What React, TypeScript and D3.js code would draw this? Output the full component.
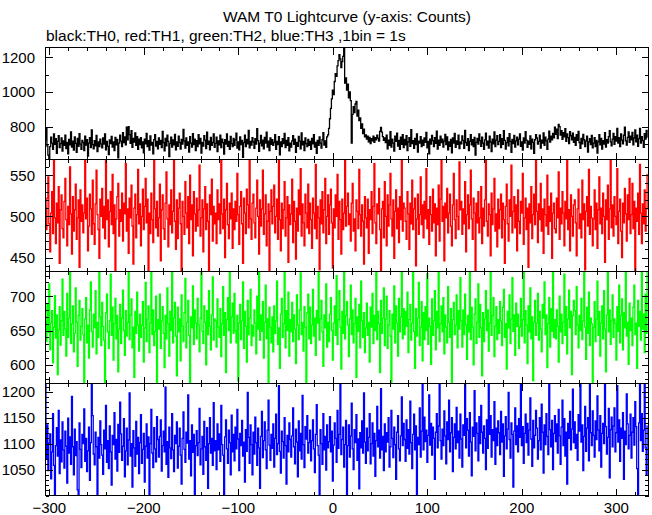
import React from 'react';
import * as d3 from 'd3';

const TITLE = 'WAM T0 Lightcurve (y-axis: Counts)';
const SUBTITLE = 'black:TH0, red:TH1, green:TH2, blue:TH3 ,1bin = 1s';

// time of first bin (s), bin width 1 s
const T_START = -304;
const BIN = 1;
const X_DOMAIN: [number, number] = [-304, 334];
const X_TICKS = [-300, -200, -100, 0, 100, 200, 300];

const TH0 = [
722, 790, 688, 635, 612, 684, 739, 705, 669, 758, 697, 730, 646, 714, 747, 678, 701, 734, 658, 718,
692, 751, 673, 709, 642, 726, 695, 769, 681, 716, 664, 740, 703, 651, 731, 686, 759, 699, 668, 720,
708, 661, 745, 693, 724, 630, 704, 736, 678, 781, 696, 672, 719, 689, 749, 655, 712, 684, 728, 700,
677, 735, 699, 757, 666, 715, 686, 638, 723, 701, 743, 682, 711, 662, 738, 695, 726, 619, 705, 750,
716, 685, 765, 707, 740, 695, 796, 724, 800, 753, 703, 776, 680, 732, 711, 763, 691, 742, 668, 727,
696, 736, 677, 712, 649, 728, 700, 761, 684, 719, 664, 746, 693, 708, 643, 724, 753, 688, 715, 672,
735, 697, 720, 678, 772, 707, 660, 731, 689, 751, 714, 627, 701, 739, 682, 723, 695, 755, 665, 711,
686, 745, 707, 670, 726, 699, 784, 718, 676, 735, 692, 712, 653, 742, 704, 681, 759, 696, 727, 661,
719, 684, 753, 700, 731, 647, 709, 688, 747, 722, 673, 768, 697, 716, 666, 738, 691, 708, 757, 680,
703, 739, 655, 718, 695, 750, 678, 728, 707, 641, 724, 699, 758, 686, 714, 669, 743, 701, 684, 732,
691, 723, 762, 676, 711, 665, 740, 696, 720, 622, 707, 751, 685, 726, 700, 778, 677, 715, 693, 736,
712, 674, 730, 699, 788, 719, 657, 704, 749, 689, 722, 672, 738, 705, 768, 682, 716, 661, 734, 697,
724, 692, 708, 754, 668, 715, 696, 742, 637, 711, 685, 730, 701, 761, 678, 720, 691, 736, 660, 704,
681, 718, 747, 697, 728, 651, 709, 686, 743, 716, 672, 763, 695, 714, 662, 734, 701, 684, 726, 692,
715, 669, 732, 700, 753, 682, 708, 646, 720, 692, 740, 704, 676, 724, 765, 693, 718, 680, 740, 752,
790, 845, 905, 960, 1010, 985, 1060, 1105, 1090, 1150, 1180, 1215, 1190, 1140, 1175, 1205, 1256, 1050, 1080, 1010,
1045, 965, 1000, 950, 705, 870, 915, 880, 930, 945, 860, 895, 835, 850, 790, 815, 760, 785, 740, 752,
728, 745, 712, 738, 701, 730, 718, 745, 709, 736, 724, 750, 733, 716, 772, 795, 768, 742, 720, 735,
707, 751, 672, 722, 692, 770, 682, 728, 704, 658, 745, 714, 762, 688, 720, 669, 739, 697, 754, 678,
726, 695, 747, 662, 711, 736, 686, 782, 701, 719, 674, 731, 696, 757, 653, 716, 705, 742, 684, 722,
691, 734, 709, 766, 677, 715, 643, 727, 699, 749, 719, 685, 736, 703, 773, 670, 722, 692, 745, 708,
728, 682, 716, 755, 696, 740, 665, 711, 686, 726, 649, 735, 704, 761, 680, 718, 697, 750, 673, 712,
700, 746, 720, 674, 778, 708, 691, 730, 661, 715, 753, 695, 724, 684, 738, 635, 709, 732, 699, 758,
719, 686, 739, 704, 668, 723, 762, 693, 716, 676, 745, 711, 655, 728, 700, 769, 685, 722, 747, 696,
714, 753, 678, 730, 697, 777, 720, 670, 707, 736, 689, 759, 715, 651, 726, 701, 749, 682, 718, 739,
695, 727, 757, 686, 712, 664, 735, 705, 770, 722, 680, 716, 697, 746, 672, 728, 709, 646, 724, 754,
734, 699, 715, 751, 676, 722, 704, 763, 692, 739, 718, 668, 728, 774, 711, 745, 723, 761, 735, 796,
755, 785, 730, 812, 800, 751, 776, 726, 765, 740, 788, 715, 757, 736, 701, 770, 747, 724, 762, 709,
738, 692, 753, 720, 772, 708, 674, 732, 700, 755, 724, 685, 716, 745, 653, 711, 730, 696, 749, 677,
705, 736, 684, 720, 647, 712, 754, 695, 731, 670, 719, 699, 765, 682, 724, 704, 742, 776, 712, 689,
727, 761, 697, 742, 716, 789, 705, 736, 685, 757, 722, 700, 750, 797, 718, 693, 738, 769, 709, 745,
724, 766, 695, 734, 781, 712, 751, 686, 730, 790, 704, 742, 719, 680, 759, 728, 778, 739,
];

const TH1 = [
510, 484, 522, 548, 491, 457, 504, 530, 479, 569, 498, 467, 516, 492, 536, 443, 508, 526, 485, 474,
518, 546, 496, 464, 512, 490, 560, 503, 454, 524, 482, 508, 539, 472, 498, 520, 438, 532, 494, 514,
480, 504, 569, 497, 522, 458, 488, 527, 509, 478, 544, 491, 466, 515, 556, 502, 484, 449, 521, 500,
534, 486, 512, 473, 569, 496, 520, 463, 506, 530, 490, 551, 479, 514, 433, 497, 524, 540, 476, 508,
494, 528, 470, 516, 503, 564, 482, 509, 455, 522, 498, 538, 488, 442, 510, 527, 474, 502, 557, 491,
515, 464, 500, 533, 484, 512, 546, 492, 521, 433, 504, 479, 528, 496, 468, 569, 509, 486, 518, 476,
498, 539, 446, 508, 526, 485, 472, 516, 554, 497, 463, 514, 490, 532, 480, 506, 569, 494, 460, 520,
473, 510, 528, 491, 433, 518, 500, 478, 542, 504, 486, 524, 467, 550, 496, 514, 452, 530, 503, 482,
522, 488, 508, 562, 476, 498, 520, 457, 509, 536, 484, 515, 494, 433, 526, 502, 545, 470, 512, 491,
504, 467, 532, 496, 515, 479, 569, 503, 485, 521, 450, 508, 540, 490, 473, 516, 497, 528, 461, 509,
484, 518, 494, 552, 502, 466, 512, 530, 491, 443, 522, 504, 479, 533, 514, 486, 568, 497, 472, 516,
527, 492, 474, 510, 544, 500, 454, 520, 488, 509, 556, 478, 503, 526, 464, 494, 515, 433, 506, 532,
491, 512, 538, 480, 500, 521, 472, 569, 496, 458, 516, 485, 508, 542, 476, 498, 524, 444, 514, 490,
503, 545, 468, 518, 494, 448, 510, 482, 532, 502, 558, 476, 515, 492, 464, 527, 504, 486, 539, 479,
516, 496, 461, 522, 504, 485, 563, 473, 512, 498, 435, 520, 491, 530, 480, 508, 546, 467, 500, 526,
478, 514, 533, 492, 437, 509, 486, 526, 500, 551, 472, 518, 496, 454, 521, 484, 504, 569, 488, 512,
528, 490, 503, 470, 516, 540, 482, 497, 458, 520, 506, 485, 557, 502, 476, 514, 494, 442, 524, 498,
486, 521, 455, 508, 496, 530, 479, 512, 564, 492, 467, 515, 503, 534, 484, 433, 509, 518, 474, 542,
500, 464, 526, 488, 514, 552, 497, 476, 520, 449, 506, 532, 485, 510, 468, 524, 496, 569, 482, 516,
510, 494, 472, 530, 503, 460, 516, 491, 544, 484, 509, 522, 440, 497, 527, 478, 502, 548, 490, 514,
474, 518, 497, 558, 485, 508, 466, 524, 502, 482, 533, 492, 515, 452, 510, 490, 538, 470, 521, 569,
494, 512, 446, 516, 498, 534, 480, 504, 527, 488, 464, 514, 552, 496, 473, 520, 500, 484, 566, 508,
518, 478, 509, 491, 542, 457, 502, 526, 485, 514, 556, 497, 472, 522, 504, 434, 516, 492, 530, 480,
498, 536, 467, 510, 488, 520, 569, 494, 476, 515, 502, 452, 528, 490, 509, 546, 482, 503, 463, 521,
485, 508, 527, 474, 516, 496, 443, 512, 539, 491, 470, 520, 500, 562, 480, 506, 524, 486, 514, 458,
532, 494, 479, 518, 504, 552, 466, 498, 522, 484, 510, 438, 515, 492, 536, 473, 502, 527, 490, 569,
506, 468, 515, 496, 540, 482, 509, 455, 521, 502, 488, 550, 478, 512, 494, 528, 449, 504, 516, 485,
480, 522, 498, 554, 472, 510, 491, 530, 504, 464, 518, 497, 569, 484, 508, 458, 526, 500, 476, 514,
520, 492, 452, 509, 533, 485, 503, 474, 544, 496, 515, 435, 506, 524, 488, 557, 478, 512, 498, 464,
497, 532, 484, 516, 461, 508, 548, 491, 510, 479, 528, 500, 444, 520, 496, 538, 472, 509, 569, 486,
514, 476, 524, 500, 490, 558, 467, 506, 521, 482, 450, 516, 492, 534, 503, 470, 526, 496, 546, 479,
502, 540, 485, 518, 433, 510, 494, 528, 478, 563, 504, 467, 515, 491, 532, 482, 509, 551,
];

const TH2 = [
665, 634, 689, 647, 718, 622, 661, 679, 603, 655, 701, 639, 673, 586, 651, 685, 629, 664, 725, 643,
678, 652, 613, 704, 640, 668, 736, 631, 660, 686, 619, 646, 712, 662, 598, 672, 694, 636, 656, 682,
644, 573, 667, 698, 632, 658, 610, 680, 721, 649, 626, 674, 654, 708, 616, 662, 640, 736, 670, 628,
691, 656, 636, 573, 676, 703, 648, 624, 664, 732, 643, 684, 607, 660, 697, 638, 672, 590, 652, 688,
631, 668, 709, 650, 614, 679, 642, 662, 736, 637, 673, 696, 625, 655, 582, 678, 646, 706, 658, 620,
674, 640, 658, 692, 604, 654, 720, 634, 667, 686, 618, 661, 736, 644, 680, 628, 649, 700, 573, 666,
652, 703, 624, 664, 685, 646, 596, 672, 638, 712, 660, 613, 678, 650, 736, 632, 668, 691, 642, 584,
684, 648, 667, 606, 702, 656, 634, 676, 726, 625, 662, 694, 643, 573, 670, 654, 715, 630, 680, 661,
638, 697, 658, 619, 668, 736, 649, 631, 686, 662, 600, 679, 644, 708, 656, 622, 673, 728, 636, 667,
664, 626, 696, 655, 640, 682, 612, 660, 714, 643, 676, 589, 666, 698, 650, 736, 632, 670, 690, 646,
704, 650, 632, 672, 577, 661, 688, 637, 664, 721, 624, 678, 656, 604, 694, 644, 668, 710, 628, 658,
642, 680, 661, 616, 700, 652, 736, 636, 673, 649, 692, 610, 662, 716, 638, 667, 573, 684, 655, 632,
670, 619, 686, 646, 664, 722, 630, 654, 595, 674, 697, 640, 660, 736, 625, 679, 650, 706, 613, 666,
648, 691, 634, 673, 652, 602, 702, 658, 637, 680, 734, 644, 662, 620, 685, 655, 573, 676, 703, 638,
684, 631, 658, 710, 642, 668, 614, 679, 661, 736, 636, 667, 694, 648, 598, 673, 654, 718, 626, 662,
634, 674, 698, 650, 607, 661, 686, 643, 730, 630, 666, 708, 655, 594, 678, 646, 736, 638, 672, 692,
658, 612, 667, 716, 644, 680, 632, 660, 697, 582, 670, 649, 688, 625, 722, 664, 640, 676, 618, 654,
690, 643, 662, 604, 684, 655, 704, 631, 672, 650, 736, 637, 678, 660, 589, 694, 646, 668, 712, 628,
667, 700, 624, 658, 679, 642, 574, 674, 652, 715, 632, 686, 661, 613, 697, 648, 670, 736, 638, 682,
644, 678, 656, 706, 618, 666, 688, 636, 661, 736, 649, 595, 682, 642, 668, 720, 628, 655, 692, 606,
676, 637, 685, 650, 733, 630, 668, 656, 601, 696, 643, 664, 708, 622, 678, 654, 736, 634, 660, 686,
648, 698, 616, 673, 655, 632, 714, 662, 640, 682, 573, 666, 691, 644, 658, 702, 625, 679, 652, 727,
664, 626, 680, 644, 703, 658, 608, 672, 648, 736, 637, 684, 655, 600, 674, 696, 631, 662, 718, 640,
688, 654, 584, 676, 634, 667, 708, 650, 680, 620, 661, 736, 643, 672, 698, 612, 656, 685, 637, 666,
646, 692, 664, 628, 684, 710, 640, 660, 594, 678, 654, 702, 631, 667, 727, 649, 673, 614, 690, 656,
674, 624, 655, 697, 642, 666, 736, 632, 679, 658, 602, 686, 648, 712, 638, 670, 577, 662, 694, 643,
661, 704, 636, 678, 652, 619, 688, 668, 721, 644, 673, 596, 660, 698, 626, 682, 649, 736, 640, 666,
638, 680, 656, 604, 700, 648, 674, 631, 662, 732, 643, 685, 616, 667, 709, 654, 678, 586, 672, 694,
679, 644, 714, 658, 625, 672, 650, 697, 637, 664, 736, 655, 608, 684, 646, 706, 628, 668, 660, 573,
655, 692, 634, 667, 722, 643, 678, 613, 661, 686, 638, 708, 652, 590, 673, 736, 648, 680, 630, 664,
702, 640, 667, 660, 607, 685, 649, 716, 632, 672, 696, 622, 676, 654, 736, 642, 662, 601, 690, 650,
668, 628, 684, 716, 644, 661, 595, 694, 656, 678, 636, 736, 652, 674, 618, 703, 646, 736,
];

const TH3 = [
1216, 1071, 1136, 1048, 1101, 1119, 1032, 1084, 1158, 1058, 1000, 1096, 1131, 1076, 1164, 1042, 1107, 1065, 1142, 1088,
1053, 1124, 1095, 1024, 1149, 1082, 1113, 1060, 1191, 1094, 1040, 1128, 1077, 1104, 1011, 1000, 1140, 1089, 1054, 1118,
1100, 1167, 1066, 1110, 1046, 1086, 1132, 1029, 1102, 1216, 1154, 1080, 1059, 1122, 1094, 1000, 1112, 1072, 1144, 1098,
1078, 1041, 1126, 1090, 1174, 1064, 1106, 1052, 1134, 1084, 1020, 1116, 1098, 1160, 1070, 1108, 1047, 1137, 1083, 1180,
1119, 1068, 1095, 1148, 1036, 1086, 1130, 1059, 1107, 1198, 1076, 1100, 1016, 1125, 1092, 1056, 1143, 1080, 1112, 1042,
1102, 1156, 1062, 1089, 1120, 1026, 1095, 1138, 1072, 1113, 1000, 1100, 1166, 1082, 1054, 1131, 1090, 1065, 1152, 1108,
1074, 1114, 1146, 1047, 1096, 1124, 1084, 1209, 1060, 1104, 1035, 1132, 1092, 1071, 1158, 1088, 1046, 1116, 1100, 1142,
1053, 1095, 1130, 1078, 1022, 1110, 1161, 1089, 1064, 1122, 1101, 1194, 1070, 1106, 1038, 1136, 1083, 1118, 1000, 1096,
1125, 1077, 1102, 1168, 1059, 1090, 1114, 1041, 1143, 1094, 1068, 1131, 1014, 1100, 1150, 1082, 1110, 1058, 1179, 1086,
1106, 1050, 1138, 1088, 1119, 1066, 1174, 1098, 1078, 1000, 1113, 1146, 1090, 1062, 1126, 1102, 1040, 1155, 1084, 1118,
1067, 1132, 1090, 1166, 1109, 1048, 1120, 1096, 1145, 1076, 1103, 1026, 1127, 1085, 1199, 1112, 1062, 1136, 1098, 1040,
1122, 1080, 1151, 1102, 1058, 1130, 1092, 1014, 1114, 1162, 1073, 1106, 1142, 1088, 1052, 1126, 1184, 1097, 1068, 1118,
1091, 1138, 1055, 1110, 1157, 1079, 1100, 1212, 1085, 1043, 1124, 1104, 1072, 1150, 1096, 1022, 1116, 1084, 1140, 1108,
1074, 1115, 1169, 1094, 1061, 1128, 1103, 1036, 1144, 1086, 1120, 1070, 1193, 1098, 1054, 1133, 1109, 1154, 1082, 1102,
1126, 1067, 1106, 1146, 1090, 1044, 1118, 1175, 1096, 1078, 1000, 1127, 1100, 1060, 1158, 1088, 1114, 1049, 1136, 1092,
1104, 1152, 1084, 1124, 1028, 1097, 1140, 1110, 1064, 1164, 1091, 1118, 1216, 1079, 1108, 1132, 1055, 1098, 1145, 1000,
1096, 1136, 1074, 1115, 1178, 1090, 1050, 1127, 1102, 1156, 1068, 1109, 1013, 1121, 1092, 1144, 1082, 1198, 1103, 1062,
1130, 1086, 1112, 1158, 1061, 1100, 1140, 1076, 1120, 1037, 1106, 1172, 1094, 1126, 1072, 1206, 1088, 1114, 1048, 1138,
1084, 1121, 1103, 1150, 1055, 1094, 1164, 1110, 1073, 1132, 1098, 1031, 1122, 1154, 1090, 1067, 1115, 1190, 1096, 1139,
1108, 1066, 1146, 1091, 1127, 1080, 1182, 1102, 1052, 1118, 1157, 1088, 1134, 1002, 1112, 1098, 1169, 1074, 1124, 1214,
1088, 1151, 1104, 1126, 1064, 1116, 1194, 1097, 1139, 1078, 1132, 1110, 1031, 1122, 1158, 1092, 1134, 1216, 1106, 1070,
1128, 1096, 1163, 1115, 1061, 1142, 1108, 1184, 1084, 1121, 1150, 1046, 1112, 1138, 1090, 1170, 1102, 1124, 1072, 1157,
1109, 1055, 1136, 1116, 1216, 1092, 1148, 1126, 1076, 1160, 1103, 1038, 1132, 1114, 1202, 1086, 1140, 1120, 1067, 1152,
1100, 1174, 1122, 1082, 1134, 1110, 1050, 1146, 1091, 1216, 1118, 1154, 1074, 1127, 1106, 1181, 1060, 1130, 1096, 1144,
1121, 1079, 1162, 1103, 1138, 1037, 1115, 1152, 1090, 1128, 1199, 1108, 1072, 1140, 1118, 1016, 1124, 1169, 1098, 1134,
1084, 1148, 1112, 1216, 1096, 1133, 1062, 1120, 1157, 1102, 1139, 1078, 1126, 1188, 1109, 1056, 1145, 1092, 1116, 1164,
1130, 1070, 1106, 1150, 1088, 1176, 1122, 1043, 1136, 1098, 1158, 1114, 1079, 1216, 1127, 1094, 1145, 1050, 1120, 1154,
1104, 1138, 1082, 1166, 1115, 1060, 1132, 1184, 1096, 1148, 1076, 1122, 1022, 1139, 1110, 1162, 1088, 1128, 1205, 1102,
1142, 1091, 1118, 1068, 1156, 1124, 1216, 1103, 1136, 1048, 1114, 1172, 1085, 1130, 1150, 1067, 1216, 1121, 1096, 1163,
1116, 1074, 1144, 1108, 1192, 1126, 1086, 1154, 1055, 1120, 1139, 1100, 1216, 1133, 1080, 1112, 1168, 1034, 1127, 1151,
1094, 1134, 1169, 1084, 1121, 1212, 1103, 1146, 1066, 1130, 1110, 1160, 1031, 1124, 1098, 1196, 1138, 1090, 1116, 1157,
1072, 1122, 1150, 1097, 1181, 1133, 1052, 1000, 1140, 1216, 1106, 1158, 1085, 1126, 1216, 1092, 1040, 1134,
];

const COLORS = ['#000000', '#ff0000', '#00ff00', '#0000ff'];
const Y_DOMAINS: [number, number][] = [[610, 1256], [433, 569], [573, 736], [1000, 1216]];
const Y_LABELS: number[][] = [[800, 1000, 1200], [450, 500, 550], [600, 650, 700], [1050, 1100, 1150, 1200]];
const Y_MINOR_STEP = [100, 10, 10, 10];
const SERIES = [TH0, TH1, TH2, TH3];

const FONT = "'Liberation Sans', Arial, Helvetica, sans-serif";

export default function App() {
  const W = 652, H = 515;
  const L = 45.5, R = 648.5, T = 47.5, B = 495.5;
  const ph = (B - T) / 4;
  const x = d3.scaleLinear().domain(X_DOMAIN).range([L, R]);
  const xMinor = d3.range(-300, X_DOMAIN[1], 20);
  const fmt = (v: number) => (v < 0 ? '\u2212' + Math.abs(v) : String(v));

  return (
    <svg width={W} height={H} viewBox={`0 0 ${W} ${H}`}
      style={{ position: 'absolute', left: 0, top: 0, display: 'block' }}
      fontFamily={FONT}>
      <rect x={0} y={0} width={W} height={H} fill="#ffffff" />
      <text x={347} y={22} textAnchor="middle" fontSize={15.5}>{TITLE}</text>
      <text x={46} y={41} fontSize={15.5}>{SUBTITLE}</text>
      <defs>
        {SERIES.map((_, k) => (
          <clipPath id={`clip${k}`} key={k}>
            <rect x={L} y={T + k * ph} width={R - L} height={ph} />
          </clipPath>
        ))}
      </defs>
      {SERIES.map((data, k) => {
        const top = T + k * ph;
        const bot = top + ph;
        const [lo, hi] = Y_DOMAINS[k];
        const y = d3.scaleLinear().domain([lo, hi]).range([bot, top]);
        const line = d3.line<number>()
          .x((_, i) => x(T_START + i * BIN))
          .y((v) => y(v))
          .curve(d3.curveStep);
        const step = Y_MINOR_STEP[k];
        const yMinor = d3.range(Math.ceil(lo / step) * step, hi + 0.001, step);
        const majorSet = new Set(Y_LABELS[k]);
        return (
          <g key={k}>
            <path d={line(data) || ''} fill="none" stroke={COLORS[k]} strokeWidth={1.3}
              strokeLinejoin="miter" clipPath={`url(#clip${k})`} />
            <rect x={L} y={top} width={R - L} height={ph} fill="none" stroke="#000" strokeWidth={1}
              shapeRendering="crispEdges" />
            {xMinor.map((v) => {
              const len = v % 100 === 0 ? 7 : 3.5;
              const xv = Math.round(x(v)) + 0.5;
              return (
                <g key={`x${v}`} stroke="#000" strokeWidth={1} shapeRendering="crispEdges">
                  <line x1={xv} x2={xv} y1={top} y2={top + len} />
                  <line x1={xv} x2={xv} y1={bot} y2={bot - len} />
                </g>
              );
            })}
            {yMinor.map((v) => {
              const major = majorSet.has(v) || (k === 0 && v % 200 === 0);
              const len = major ? 7 : 3.5;
              const yv = Math.round(y(v)) + 0.5;
              return (
                <g key={`y${v}`} stroke="#000" strokeWidth={1} shapeRendering="crispEdges">
                  <line x1={L} x2={L + len} y1={yv} y2={yv} />
                  <line x1={R} x2={R - len} y1={yv} y2={yv} />
                </g>
              );
            })}
            {Y_LABELS[k].map((v) => (
              <text key={`l${v}`} x={35} y={y(v)} dy="0.36em" textAnchor="end" fontSize={15}>
                {fmt(v)}
              </text>
            ))}
          </g>
        );
      })}
      {X_TICKS.map((v) => (
        <text key={`xl${v}`} x={x(v)} y={513} textAnchor="middle" fontSize={15}>{fmt(v)}</text>
      ))}
    </svg>
  );
}
